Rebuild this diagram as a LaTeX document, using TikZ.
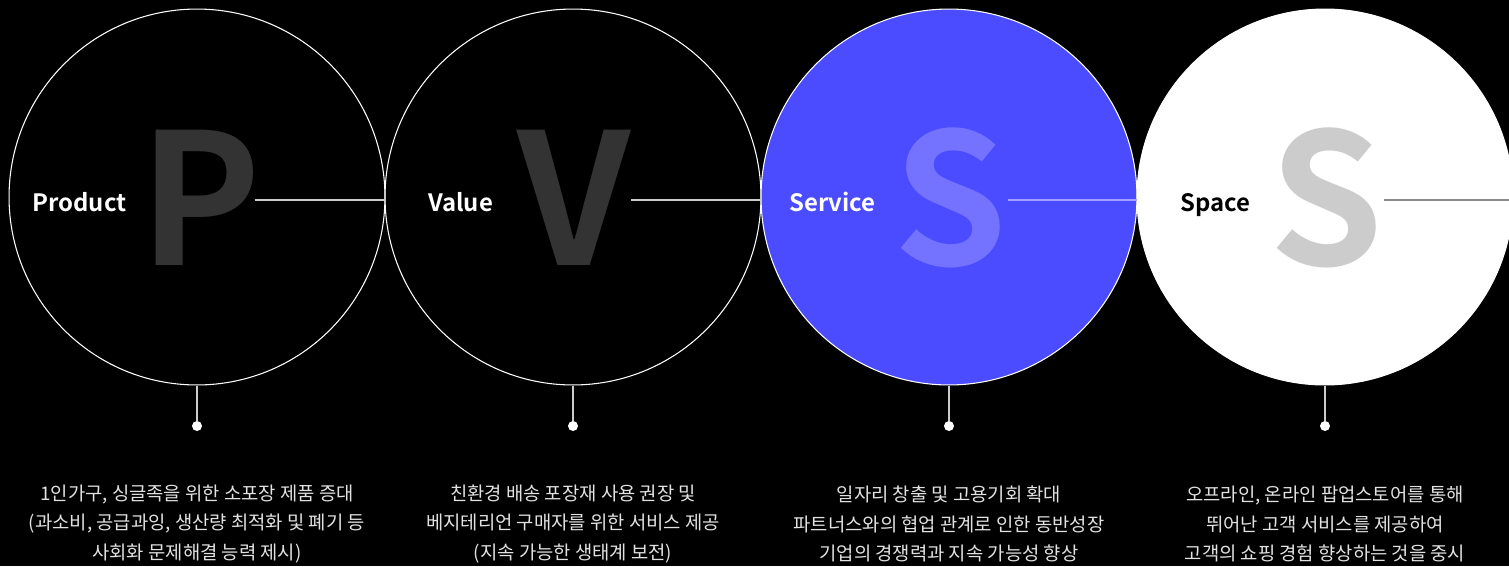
\documentclass[tikz,border=0pt]{standalone}
\usepackage{fontspec}
\setmainfont{Noto Sans CJK KR}[BoldFont={Noto Sans CJK KR Bold}]
\usetikzlibrary{positioning}
\definecolor{pvsblue}{HTML}{4B4BFF}
\definecolor{pvsblueS}{HTML}{7373FF}
\definecolor{pvsblueline}{HTML}{A0A0FF}
\definecolor{letgray}{HTML}{333333}
\definecolor{letlight}{HTML}{CCCCCC}
\definecolor{descgray}{HTML}{E2E2E2}

\begin{document}
\begin{tikzpicture}[x=0.02cm,y=-0.02cm]
    \tikzstyle{ring}=[circle,draw=white,line width=0.6pt,minimum size=7.52cm,inner sep=0pt]
    \tikzstyle{biglet}=[font=\fontsize{104}{104}\selectfont\bfseries,inner sep=0pt]
    \tikzstyle{tag}=[font=\fontsize{13.6}{14}\selectfont\bfseries,anchor=base west,inner sep=0pt]
    \tikzstyle{desc}=[font=\fontsize{10.7}{17}\selectfont,text=descgray,align=center,inner sep=0pt]
    \tikzstyle{dot}=[circle,fill=white,minimum size=0.2cm,inner sep=0pt]
    \tikzstyle{stem}=[draw=letlight,line width=1.3pt]
    \tikzstyle{hline}=[line width=1pt]
    \fill[black] (0,0) rectangle (1509,566);
    \useasboundingbox (0,0) rectangle (1509,566);
    % circles
    \node[ring] (product) at (197,197) {};
    \node[ring] (value) at (573,197) {};
    \node[ring,fill=pvsblue] (service) at (949,197) {};
    \node[ring,fill=white,draw=white] (space) at (1325,197) {};
    % big letters
    \node[biglet,text=letgray] (P) at (200,198) {P};
    \node[biglet,text=letgray] (V) at (574,198) {V};
    \node[biglet,text=pvsblueS] (S1) at (951,198) {S};
    \node[biglet,text=letlight] (S2) at (1326,198) {S};
    % labels
    \node[tag,text=white] (tp) at (32,211) {Product};
    \node[tag,text=white] (tv) at (428,211) {Value};
    \node[tag,text=white] (ts) at (789,211) {Service};
    \node[tag,text=black] (tsp) at (1180,211) {Space};
    % horizontal lines
    \coordinate (e1) at (255,200);
    \coordinate (e2) at (631,200);
    \coordinate (e3) at (1008,200);
    \coordinate (e4) at (1384,200);
    \coordinate (edge) at (1509,200);
    \draw[hline,draw=letlight] (e1) -- (e1 -| product.east);
    \draw[hline,draw=letlight] (e2) -- (e2 -| value.east);
    \draw[hline,draw=pvsblueline] (e3) -- (e3 -| service.east);
    \draw[hline,draw=gray!90] (e4) -- (edge);
    % stems and dots
    \node[dot] (d1) at (197,426) {};
    \node[dot] (d2) at (573,426) {};
    \node[dot] (d3) at (949,426) {};
    \node[dot] (d4) at (1325,426) {};
    \draw[stem] (product.south) -- (d1);
    \draw[stem] (value.south) -- (d2);
    \draw[stem] (service.south) -- (d3);
    \draw[stem] (space.south) -- (d4);
    % descriptions
    \node[desc] (x1) at (197,524) {1인가구, 싱글족을 위한 소포장 제품 증대\\(과소비, 공급과잉, 생산량 최적화 및 폐기 등\\사회화 문제해결 능력 제시)};
    \node[desc] (x2) at (573,524) {친환경 배송 포장재 사용 권장 및\\베지테리언 구매자를 위한 서비스 제공\\(지속 가능한 생태계 보전)};
    \node[desc] (x3) at (949,524) {일자리 창출 및 고용기회 확대\\파트너스와의 협업 관계로 인한 동반성장\\기업의 경쟁력과 지속 가능성 향상};
    \node[desc] (x4) at (1325,524) {오프라인, 온라인 팝업스토어를 통해\\뛰어난 고객 서비스를 제공하여\\고객의 쇼핑 경험 향상하는 것을 중시};
\end{tikzpicture}
\end{document}
